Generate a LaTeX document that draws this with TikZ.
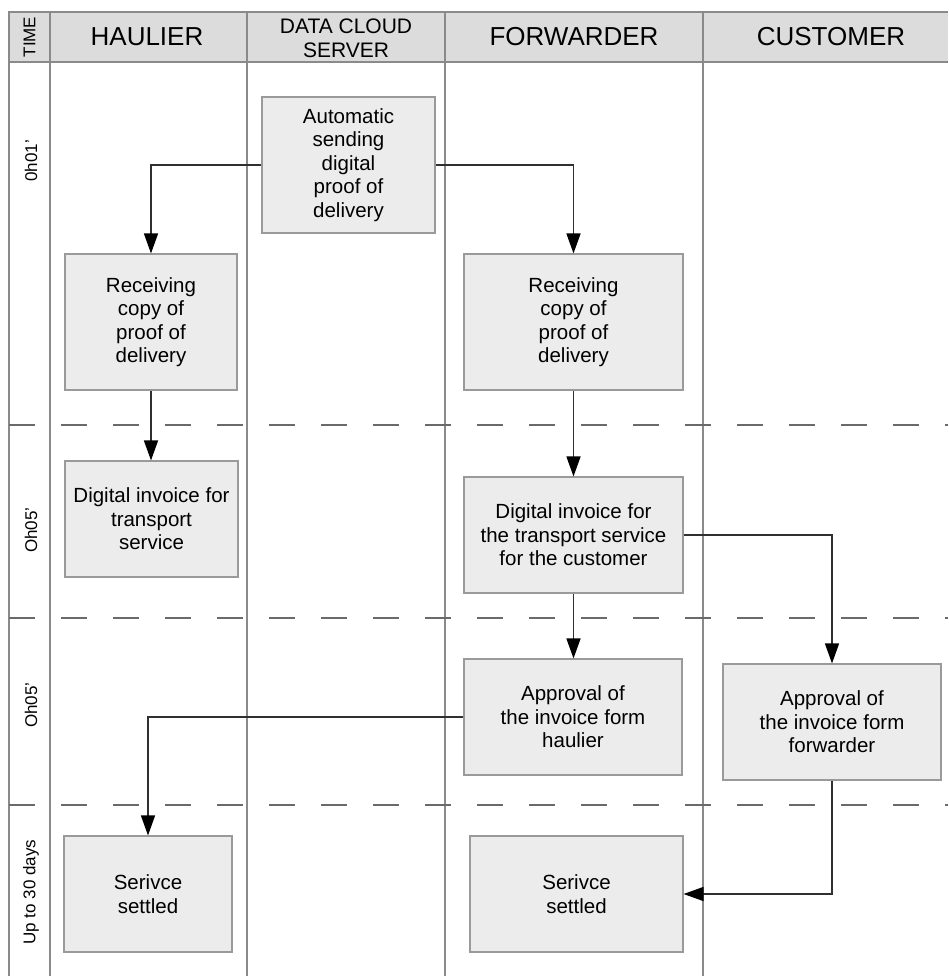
\documentclass[tikz,border=0pt]{standalone}
\usepackage{fontspec}
\setmainfont{Liberation Sans}
\usetikzlibrary{arrows.meta}
\definecolor{hdrfill}{HTML}{DCDCDC}
\definecolor{boxfill}{HTML}{ECECEC}
\definecolor{boxline}{HTML}{9A9A9A}
\definecolor{laneline}{HTML}{8A8A8A}
\definecolor{dashline}{HTML}{6A6A6A}
\definecolor{arrline}{HTML}{303030}
\tikzset{
  procbox/.style={draw=boxline, fill=boxfill, line width=1.1pt, align=center, inner sep=0pt,
    font=\fontsize{20.5}{23.5}\selectfont},
  lanehdr/.style={align=center, inner sep=0pt, font=\fontsize{26}{28}\selectfont},
  lanehdrsmall/.style={align=center, inner sep=0pt, font=\fontsize{21}{24}\selectfont},
  timelbl/.style={rotate=90, inner sep=0pt, font=\fontsize{17}{19}\selectfont},
  laneln/.style={draw=laneline, line width=1.1pt},
  phaseln/.style={draw=dashline, line width=1.3pt, dash pattern=on 26pt off 26pt},
  flow/.style={draw=arrline, line width=1.4pt, -{Triangle[length=20pt,width=14pt,color=black]}}
}
\begin{document}
\begin{tikzpicture}[x=1pt,y=-1pt]
\useasboundingbox (0,0) rectangle (948,976);
% header
\fill[hdrfill] (9,12) rectangle (948,62);
\draw[laneln] (948,12) -- (9,12) -- (9,976);
\draw[laneln] (9,62) -- (948,62);
\foreach \xx in {50,247,445,703} \draw[laneln] (\xx,12) -- (\xx,976);
\node[timelbl] (htime) at (29.5,37) {TIME};
\node[lanehdr] (hhaul) at (147,37) {HAULIER};
\node[lanehdrsmall] (hdata) at (346,38) {DATA CLOUD\\SERVER};
\node[lanehdr] (hfwd) at (574,37) {FORWARDER};
\node[lanehdr] (hcust) at (831,37) {CUSTOMER};
% phase separators
\foreach \yy in {425,618,805} \draw[phaseln] (9,\yy) -- (948,\yy);
% time labels
\node[timelbl] (t1) at (31,161) {0h01'};
\node[timelbl] (t2) at (31,530) {Oh05'};
\node[timelbl] (t3) at (31,705) {Oh05'};
\node[timelbl] (t4) at (31,892) {Up to 30 days};
% process boxes
\node[procbox, minimum width=173pt, minimum height=136pt] (auto) at (348.5,165) {Automatic\\sending\\digital\\proof of\\delivery};
\node[procbox, minimum width=172pt, minimum height=136pt] (hrec) at (151,322) {Receiving\\copy of\\proof of\\delivery};
\node[procbox, minimum width=219pt, minimum height=136pt] (frec) at (573.5,322) {Receiving\\copy of\\proof of\\delivery};
\node[procbox, minimum width=173pt, minimum height=116pt] (hinv) at (151.5,519) {Digital invoice for\\transport\\service};
\node[procbox, minimum width=219pt, minimum height=116pt] (finv) at (573.5,535) {Digital invoice for\\the transport service\\for the customer};
\node[procbox, minimum width=218pt, minimum height=116pt] (fapp) at (573,717) {Approval of\\the invoice form\\haulier};
\node[procbox, minimum width=218pt, minimum height=116pt] (capp) at (832,722) {Approval of\\the invoice form\\forwarder};
\node[procbox, minimum width=168pt, minimum height=116pt] (hset) at (148,894) {Serivce\\settled};
\node[procbox, minimum width=213pt, minimum height=116pt] (fset) at (576.5,894) {Serivce\\settled};
% connectors
\draw[flow] (auto.west) -| (hrec.north);
\draw[flow] (auto.east) -| (frec.north);
\draw[flow] (hrec.south) -- (hrec.south |- hinv.north);
\draw[flow] (frec.south) -- (frec.south |- finv.north);
\draw[flow] (finv.east) -| (capp.north);
\draw[flow] (finv.south) -- (finv.south |- fapp.north);
\draw[flow] (fapp.west) -| (hset.north);
\draw[flow] (capp.south) |- (fset.east);
\end{tikzpicture}
\end{document}
